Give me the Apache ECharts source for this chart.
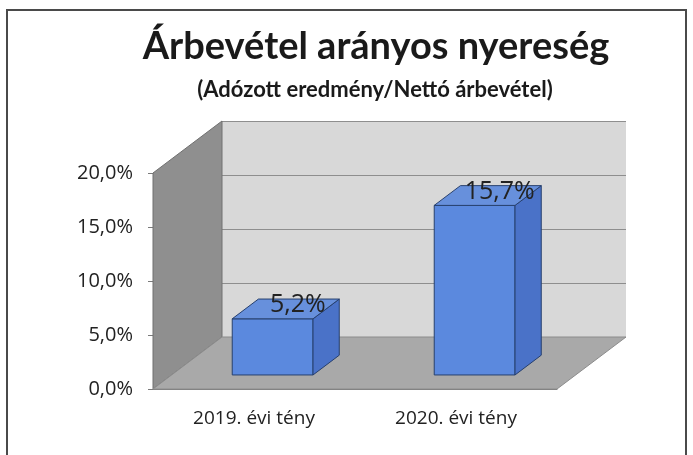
<!DOCTYPE html>
<html>
<head>
<meta charset="utf-8">
<script src="https://cdn.jsdelivr.net/npm/echarts@6/dist/echarts.min.js"></script>
<style>
html, body { margin: 0; padding: 0; background: #fff; }
#chart { width: 693px; height: 455px; }
</style>
</head>
<body>
<div id="chart"></div>
<script>
// adatok
const categories = ['2019. évi tény', '2020. évi tény'];
const values = [5.2, 15.7];
const yTicks = [0, 5, 10, 15, 20];

const DX = 69, DY = -52;          // a 3D doboz mélysége
const BAR_T0 = 0.27, BAR_T1 = 0.65; // oszlop eleje / hátulja a mélységben

const chart = echarts.init(document.getElementById('chart'));

function pct(v) {
  return v.toFixed(1).replace('.', ',') + '%';
}

// oldalfal + padló
function wallsItem(params, api) {
  const cs = params.coordSys;
  const x0 = cs.x, y0 = cs.y, x1 = cs.x + cs.width, y1 = cs.y + cs.height;
  return {
    type: 'group',
    children: [
      {
        type: 'polygon',
        shape: { points: [[x0, y1], [x0, y0], [x0 + DX, y0 + DY], [x0 + DX, y1 + DY]] },
        style: { fill: '#8f8f8f', stroke: '#707070', lineWidth: 1 }
      },
      {
        type: 'polygon',
        shape: { points: [[x0, y1], [x1, y1], [x1 + DX, y1 + DY], [x0 + DX, y1 + DY]] },
        style: { fill: '#a9a9a9', stroke: '#8c8c8c', lineWidth: 1 }
      }
    ]
  };
}

// 3D oszlop
function barItem(params, api) {
  const i = api.value(0), v = api.value(1);
  const top = api.coord([i, v]);
  const base = api.coord([i, 0]);
  const w = api.size([1, 0])[0] * 0.4;
  const ox = DX * BAR_T0, oy = DY * BAR_T0;
  const dx = DX * (BAR_T1 - BAR_T0), dy = DY * (BAR_T1 - BAR_T0);
  const l = top[0] - w / 2 + ox, r = l + w;
  const t = top[1] + oy, b = base[1] + oy;
  const edge = { stroke: '#27406e', lineWidth: 1 };
  return {
    type: 'group',
    children: [
      {
        type: 'polygon',
        shape: { points: [[l, b], [r, b], [r, t], [l, t]] },
        style: Object.assign({ fill: '#5b89de' }, edge)
      },
      {
        type: 'polygon',
        shape: { points: [[r, b], [r + dx, b + dy], [r + dx, t + dy], [r, t]] },
        style: Object.assign({ fill: '#4a72c8' }, edge)
      },
      {
        type: 'polygon',
        shape: { points: [[l, t], [r, t], [r + dx, t + dy], [l + dx, t + dy]] },
        style: Object.assign({ fill: '#6790dc' }, edge)
      },
      {
        type: 'text',
        style: {
          text: pct(v),
          x: (l + r) / 2 + dx / 2 + 12,
          y: t + dy / 2 - 4,
          align: 'center',
          verticalAlign: 'middle',
          fill: '#222',
          font: '25px "Open Sans"'
        }
      }
    ]
  };
}

const frontGrid = { left: 153, top: 173, width: 404, height: 216 };

chart.setOption({
  backgroundColor: '#fff',
  animation: false,
  title: [
    {
      text: 'Árbevétel arányos nyereség',
      left: 371,
      textAlign: 'center',
      top: 23,
      textStyle: { fontFamily: 'Lato', fontWeight: 'bold', fontSize: 38, color: '#1a1a1a' }
    },
    {
      text: '(Adózott eredmény/Nettó árbevétel)',
      left: 370,
      textAlign: 'center',
      top: 74,
      textStyle: { fontFamily: 'Lato', fontWeight: 'bold', fontSize: 22, color: '#1a1a1a' }
    }
  ],
  graphic: [
    {
      type: 'rect',
      shape: { x: 7, y: 10, width: 679, height: 452 },
      style: { fill: 'none', stroke: '#4a4a4a', lineWidth: 2 },
      z: 100
    }
  ],
  grid: [
    frontGrid,
    {
      left: frontGrid.left + DX,
      top: frontGrid.top + DY,
      width: frontGrid.width,
      height: frontGrid.height,
      show: true,
      backgroundColor: '#d8d8d8',
      borderWidth: 0,
      z: -1
    }
  ],
  xAxis: [
    {
      gridIndex: 0,
      type: 'category',
      data: categories,
      axisLine: { lineStyle: { color: '#7a7a7a' } },
      axisTick: { length: 7, lineStyle: { color: '#7a7a7a' } },
      axisLabel: { color: '#222', fontFamily: 'Open Sans', fontSize: 19, margin: 20 }
    },
    {
      gridIndex: 1,
      type: 'category',
      data: categories,
      show: false
    }
  ],
  yAxis: [
    {
      gridIndex: 0,
      type: 'value',
      min: yTicks[0],
      max: yTicks[yTicks.length - 1],
      interval: yTicks[1] - yTicks[0],
      axisLine: { show: true, lineStyle: { color: '#7a7a7a' } },
      axisTick: { show: true, length: 5, lineStyle: { color: '#7a7a7a' } },
      splitLine: { show: false },
      axisLabel: { formatter: pct, color: '#222', fontFamily: 'Open Sans', fontSize: 20, margin: 20 }
    },
    {
      gridIndex: 1,
      type: 'value',
      min: yTicks[0],
      max: yTicks[yTicks.length - 1],
      interval: yTicks[1] - yTicks[0],
      axisLine: { show: false },
      axisTick: { show: false },
      axisLabel: { show: false },
      splitLine: { show: true, lineStyle: { color: '#8e8e8e', width: 1 } }
    }
  ],
  series: [
    {
      type: 'custom',
      xAxisIndex: 0,
      yAxisIndex: 0,
      renderItem: wallsItem,
      data: [[0, 0]],
      silent: true,
      z: 1
    },
    {
      type: 'custom',
      xAxisIndex: 0,
      yAxisIndex: 0,
      renderItem: barItem,
      data: values.map((v, i) => [i, v]),
      z: 3
    }
  ]
});
</script>
</body>
</html>
